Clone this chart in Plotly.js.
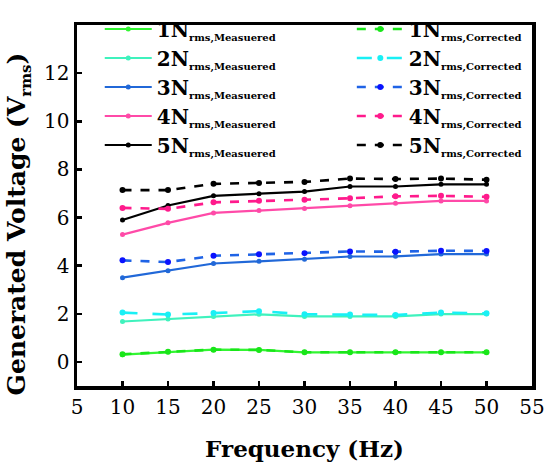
<!DOCTYPE html>
<html>
<head>
<meta charset="utf-8">
<script src="https://cdn.plot.ly/plotly-3.0.1.min.js"></script>
<style>html,body{margin:0;padding:0;background:#fff;}#chart{width:550px;height:475px;}</style>
</head>
<body>
<div id="chart"></div>
<script>
// Frequency (Hz)
var frequency = [10, 15, 20, 25, 30, 35, 40, 45, 50];

// Measured generated voltage (V_rms)
var measured1N = [0.30, 0.42, 0.51, 0.50, 0.40, 0.40, 0.40, 0.40, 0.40];
var measured2N = [1.68, 1.78, 1.89, 1.98, 1.89, 1.89, 1.89, 1.99, 1.99];
var measured3N = [3.50, 3.79, 4.09, 4.18, 4.27, 4.38, 4.39, 4.48, 4.48];
var measured4N = [5.29, 5.78, 6.19, 6.29, 6.38, 6.49, 6.59, 6.69, 6.69];
var measured5N = [5.90, 6.50, 6.90, 6.99, 7.08, 7.29, 7.29, 7.38, 7.38];

// Corrected generated voltage (V_rms)
var corrected1N = [0.32, 0.42, 0.51, 0.50, 0.40, 0.40, 0.40, 0.40, 0.40];
var corrected2N = [2.05, 1.97, 2.03, 2.11, 1.98, 1.97, 1.95, 2.05, 2.02];
var corrected3N = [4.22, 4.15, 4.41, 4.47, 4.52, 4.59, 4.58, 4.62, 4.61];
var corrected4N = [6.40, 6.36, 6.63, 6.70, 6.74, 6.80, 6.88, 6.90, 6.86];
var corrected5N = [7.14, 7.14, 7.40, 7.44, 7.48, 7.62, 7.60, 7.62, 7.57];

var xTicks = [5, 10, 15, 20, 25, 30, 35, 40, 45, 50, 55];
var yTicks = [0, 2, 4, 6, 8, 10, 12];

var forces = ['1N', '2N', '3N', '4N', '5N'];
var measuredSeries = [measured1N, measured2N, measured3N, measured4N, measured5N];
var correctedSeries = [corrected1N, corrected2N, corrected3N, corrected4N, corrected5N];
var measuredColors = ['#33f533', '#3ff2bd', '#2168d8', '#ff4aa8', '#000000'];
var correctedLineColors = ['#19e619', '#19f0f5', '#1f63e6', '#ff1a8c', '#000000'];
var correctedMarkerColors = ['#19e619', '#19f0f5', '#0a12ff', '#ff1a8c', '#000000'];
var correctedDash = ['dash', 'longdash', 'dash', 'dash', 'dash'];

function label(force, kind) {
  return force + '<sub><span style="font-size:10px">rms,' + kind + '</span></sub>';
}

var traces = [];
for (var i = 0; i < forces.length; i++) {
  traces.push({
    x: frequency, y: measuredSeries[i], type: 'scatter', mode: 'lines+markers',
    name: label(forces[i], 'Measuered'), legend: 'legend',
    line: {color: measuredColors[i], width: 2.2},
    marker: {color: measuredColors[i], size: 5}
  });
}
for (var j = 0; j < forces.length; j++) {
  traces.push({
    x: frequency, y: correctedSeries[j], type: 'scatter', mode: 'lines+markers',
    name: label(forces[j], 'Corrected'), legend: 'legend2',
    line: {color: correctedLineColors[j], width: 2.6, dash: correctedDash[j]},
    marker: {color: correctedMarkerColors[j], size: 6}
  });
}

var serif = 'DejaVu Serif';
var legendFont = {family: serif, size: 20, weight: 'bold', color: '#000'};

var layout = {
  width: 550, height: 475,
  margin: {l: 77, r: 18, t: 9, b: 89},
  paper_bgcolor: '#fff', plot_bgcolor: '#fff',
  font: {family: serif, color: '#000'},
  showlegend: true,
  xaxis: {
    range: [5, 55], tickvals: xTicks, ticktext: xTicks.map(String),
    ticks: 'inside', ticklen: 5, tickwidth: 2.5, tickcolor: '#000',
    showline: true, linewidth: 3.5, linecolor: '#000', mirror: true,
    showgrid: false, zeroline: false,
    tickfont: {family: serif, size: 20, color: '#000'},
    title: {text: 'Frequency (Hz)', font: {family: serif, size: 23, weight: 'bold', color: '#000'}, standoff: 24}
  },
  yaxis: {
    range: [-1, 14], tickvals: yTicks, ticktext: yTicks.map(String),
    ticks: 'inside', ticklen: 5, tickwidth: 2.5, tickcolor: '#000',
    showline: true, linewidth: 3.5, linecolor: '#000', mirror: true,
    showgrid: false, zeroline: false,
    tickfont: {family: serif, size: 20, color: '#000'}
  },
  annotations: [{
    xref: 'paper', yref: 'paper', x: -0.13, y: 0.45,
    xanchor: 'center', yanchor: 'middle', textangle: -90, showarrow: false,
    text: 'Generated Voltage (V<sub><span style="font-size:15px">rms</span></sub>)',
    font: {family: serif, size: 25, weight: 'bold', color: '#000'}
  }],
  legend: {
    x: 0.05, y: 1.043, xanchor: 'left', yanchor: 'top', itemwidth: 47,
    bgcolor: 'rgba(0,0,0,0)', borderwidth: 0, font: legendFont, tracegroupgap: 0
  },
  legend2: {
    x: 0.604, y: 1.043, xanchor: 'left', yanchor: 'top', itemwidth: 47,
    bgcolor: 'rgba(0,0,0,0)', borderwidth: 0, font: legendFont, tracegroupgap: 0
  }
};

Plotly.newPlot('chart', traces, layout, {displayModeBar: false, staticPlot: true});
</script>
</body>
</html>
